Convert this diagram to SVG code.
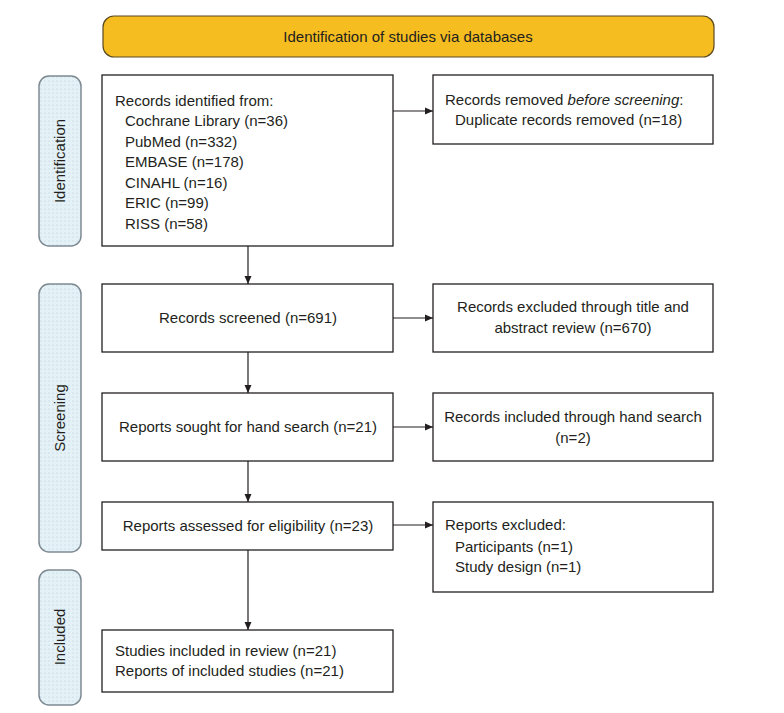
<svg xmlns="http://www.w3.org/2000/svg" width="784" height="713" viewBox="0 0 784 713">
<style>
  text { font-family: "Liberation Sans", Arial, sans-serif; font-size: 15px; fill: #231f20; }
  .box { fill: #ffffff; stroke: #231f20; stroke-width: 1.3; }
  .side { fill: url(#dots); stroke: #7d8a92; stroke-width: 1.5; }
  .banner { fill: #F5BD1F; stroke: #5a4a20; stroke-width: 1.2; }
  .conn { stroke: #231f20; stroke-width: 1.2; fill: none; marker-end: url(#arrow); }
  .mid { text-anchor: middle; }
</style>
<defs>
  <pattern id="dots" width="4" height="4" patternUnits="userSpaceOnUse">
    <rect width="4" height="4" fill="#e4f1f7"/>
    <circle cx="1" cy="1" r="0.6" fill="#b8ccd8"/>
  </pattern>
  <marker id="arrow" markerWidth="8" markerHeight="8" refX="8" refY="4" orient="auto" markerUnits="userSpaceOnUse">
    <path d="M0,0.5 L8,4 L0,7.5 Z" fill="#231f20"/>
  </marker>
</defs>
<rect width="784" height="713" fill="#ffffff"/>

<g id="banner">
  <rect class="banner" x="103" y="16" width="611" height="41" rx="11"/>
  <text class="mid" x="408" y="42">Identification of studies via databases</text>
</g>

<g id="side-identification">
  <rect class="side" x="39" y="76" width="42" height="170" rx="10"/>
  <text class="mid" transform="translate(65,161) rotate(-90)">Identification</text>
</g>
<g id="side-screening">
  <rect class="side" x="39" y="284" width="42" height="268" rx="10"/>
  <text class="mid" transform="translate(65,418) rotate(-90)">Screening</text>
</g>
<g id="side-included">
  <rect class="side" x="39" y="570" width="42" height="135" rx="10"/>
  <text class="mid" transform="translate(65,637) rotate(-90)">Included</text>
</g>

<g id="records-identified">
  <rect class="box" x="102" y="75" width="291" height="171"/>
  <text x="115" y="105.5">Records identified from:</text>
  <text x="125" y="126">Cochrane Library (n=36)</text>
  <text x="125" y="146.5">PubMed (n=332)</text>
  <text x="125" y="167">EMBASE (n=178)</text>
  <text x="125" y="187.5">CINAHL (n=16)</text>
  <text x="125" y="208">ERIC (n=99)</text>
  <text x="125" y="228.5">RISS (n=58)</text>
</g>

<g id="records-removed">
  <rect class="box" x="433" y="75" width="280" height="69"/>
  <text x="445" y="105">Records removed <tspan font-style="italic">before screening</tspan>:</text>
  <text x="455" y="125">Duplicate records removed (n=18)</text>
</g>

<g id="records-screened">
  <rect class="box" x="102" y="284" width="291" height="68"/>
  <text class="mid" x="248" y="323">Records screened (n=691)</text>
</g>

<g id="records-excluded">
  <rect class="box" x="433" y="284" width="280" height="68"/>
  <text class="mid" x="573" y="312">Records excluded through title and</text>
  <text class="mid" x="573" y="333">abstract review (n=670)</text>
</g>

<g id="reports-sought">
  <rect class="box" x="102" y="393" width="291" height="68"/>
  <text class="mid" x="248" y="432">Reports sought for hand search (n=21)</text>
</g>

<g id="hand-search">
  <rect class="box" x="433" y="393" width="280" height="68"/>
  <text class="mid" x="573" y="422">Records included through hand search</text>
  <text class="mid" x="573" y="443">(n=2)</text>
</g>

<g id="reports-assessed">
  <rect class="box" x="102" y="502" width="291" height="48"/>
  <text class="mid" x="248" y="531">Reports assessed for eligibility (n=23)</text>
</g>

<g id="reports-excluded">
  <rect class="box" x="433" y="502" width="280" height="90"/>
  <text x="445" y="530">Reports excluded:</text>
  <text x="455" y="552">Participants (n=1)</text>
  <text x="455" y="572">Study design (n=1)</text>
</g>

<g id="studies-included">
  <rect class="box" x="102" y="630" width="291" height="62"/>
  <text x="115" y="656">Studies included in review (n=21)</text>
  <text x="115" y="676">Reports of included studies (n=21)</text>
</g>

<g id="connectors">
  <line class="conn" x1="248" y1="246" x2="248" y2="284"/>
  <line class="conn" x1="248" y1="352" x2="248" y2="393"/>
  <line class="conn" x1="248" y1="461" x2="248" y2="502"/>
  <line class="conn" x1="248" y1="550" x2="248" y2="630"/>
  <line class="conn" x1="393" y1="111" x2="433" y2="111"/>
  <line class="conn" x1="393" y1="318" x2="433" y2="318"/>
  <line class="conn" x1="393" y1="427" x2="433" y2="427"/>
  <line class="conn" x1="393" y1="525" x2="433" y2="525"/>
</g>
</svg>
